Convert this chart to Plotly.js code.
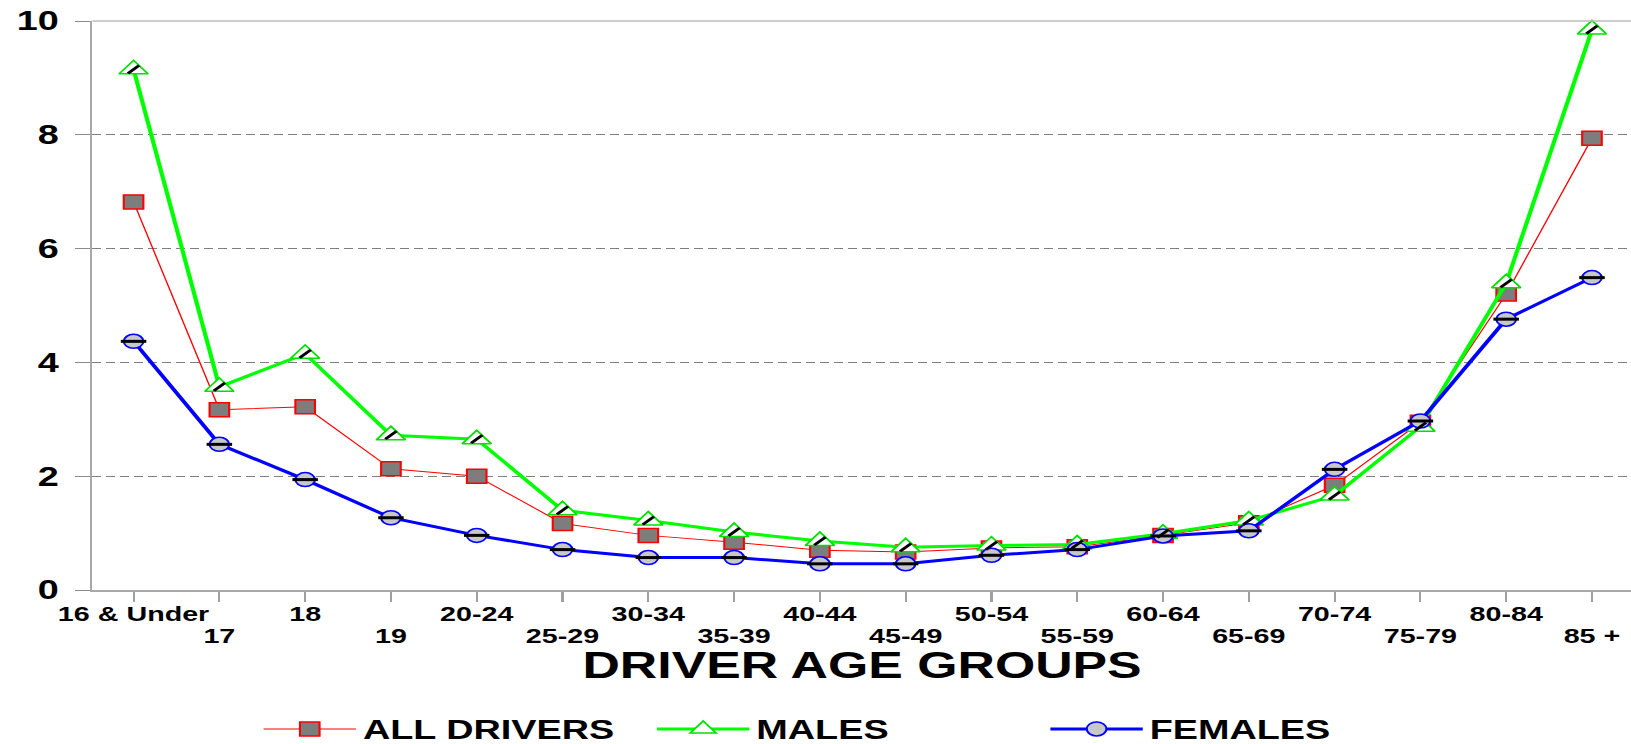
<!DOCTYPE html>
<html><head><meta charset="utf-8">
<script src="https://cdn.plot.ly/plotly-3.0.1.min.js"></script>
<style>
html,body{margin:0;padding:0;background:#fff;overflow:hidden;}
#wrap{width:1631px;height:744px;overflow:hidden;position:relative;background:#fff;}
#chart{width:1165px;height:744px;transform:scaleX(1.4);transform-origin:0 0;}
</style></head><body><div id="wrap"><div id="chart"></div></div>
<script>
const ageGroups = ['16 & Under','17','18','19','20-24','25-29','30-34','35-39','40-44','45-49','50-54','55-59','60-64','65-69','70-74','75-79','80-84','85 +'];
const allDrivers = [6.82,3.17,3.22,2.13,2.00,1.17,0.96,0.84,0.70,0.67,0.74,0.76,0.96,1.18,1.84,2.95,5.20,7.94];
const males      = [9.15,3.57,4.15,2.72,2.65,1.40,1.22,1.02,0.86,0.75,0.78,0.80,0.99,1.22,1.66,2.87,5.39,9.85];
const females    = [4.37,2.56,1.94,1.27,0.96,0.71,0.57,0.57,0.46,0.46,0.61,0.71,0.95,1.04,2.12,2.97,4.76,5.49];
const seriesNames = ['ALL DRIVERS','MALES','FEMALES'];
const xTitle = 'DRIVER AGE GROUPS';
const yTickVals = [0,2,4,6,8,10];

const F = 'Liberation Sans, Arial, Helvetica, sans-serif';
const XR = [-0.48, 17.455];
// upper row: even-indexed groups; lower row: odd-indexed groups
const upperText = ageGroups.map((g,i)=> i%2 ? '' : g);
const lowerVals = ageGroups.filter((g,i)=>i%2===1);

const traces = [
  {x:ageGroups, y:allDrivers, name:seriesNames[0], type:'scatter', mode:'lines+markers',
   line:{color:'#ff0000', width:1},
   marker:{symbol:'square', size:14, color:'#7d7d7d', line:{color:'#ff0000', width:1.5}},
   cliponaxis:false, hoverinfo:'x+y'},
  {x:ageGroups, y:males, name:seriesNames[1], type:'scatter', mode:'lines+markers',
   line:{color:'#00ff00', width:3},
   marker:{symbol:'triangle-up', size:18, color:'#ffffff', line:{color:'#00e000', width:1.5}},
   cliponaxis:false, hoverinfo:'x+y'},
  {x:ageGroups, y:females, name:seriesNames[2], type:'scatter', mode:'lines+markers',
   line:{color:'#0000ff', width:3},
   marker:{symbol:'circle', size:14, color:'#c8c8c8', line:{color:'#0000ff', width:1.5}},
   cliponaxis:false, hoverinfo:'x+y'},
  {x:ageGroups, y:males, xaxis:'x2', type:'scatter', mode:'markers', showlegend:false, hoverinfo:'skip',
   marker:{symbol:'line-ne', size:8, line:{color:'#000000', width:2.5}}, cliponaxis:false},
  {x:ageGroups, y:females, xaxis:'x2', type:'scatter', mode:'markers', showlegend:false, hoverinfo:'skip',
   marker:{symbol:'line-ew', size:13, line:{color:'#000000', width:3}}, cliponaxis:false}
];

const layout = {
  width:1165, height:744,
  margin:{l:65.7, r:0, t:21, b:154, pad:0, autoexpand:false},
  paper_bgcolor:'#ffffff', plot_bgcolor:'#ffffff',
  font:{family:F, weight:700, color:'#000'},
  showlegend:true,
  xaxis:{type:'category', range:XR, tickmode:'array', tickvals:ageGroups, ticktext:upperText,
    tickangle:0, showgrid:false, zeroline:false, showline:true, linecolor:'#a8a8a8', linewidth:2,
    ticks:'outside', ticklen:10, tickwidth:1.5, tickcolor:'#a0a0a0', ticklabelstandoff:-6,
    tickfont:{size:20.5, family:F, weight:700, color:'#000'}, fixedrange:true, automargin:false},
  xaxis2:{type:'category', overlaying:'x', anchor:'y', side:'bottom', range:XR, tickmode:'array',
    tickvals:lowerVals, ticktext:lowerVals, tickangle:0, showgrid:false, zeroline:false, showline:false,
    ticks:'outside', ticklen:10, tickcolor:'rgba(0,0,0,0)', ticklabelstandoff:17,
    tickfont:{size:20.5, family:F, weight:700, color:'#000'}, fixedrange:true, automargin:false},
  yaxis:{range:[0,10], tickmode:'array', tickvals:yTickVals, showgrid:true, gridcolor:'#7f7f7f',
    griddash:'6px,4px', gridwidth:1, zeroline:false, showline:true, linecolor:'#a8a8a8', linewidth:2,
    ticks:'outside', ticklen:10.7, tickcolor:'#8a8a8a', tickwidth:1,
    tickfont:{size:27, family:F, weight:700, color:'#000'}, ticklabelstandoff:6, fixedrange:true, automargin:false},
  legend:{orientation:'h', x:0.1067, xanchor:'left', y:-0.245, yanchor:'middle',
    font:{size:27, family:F, weight:700, color:'#000'}, itemwidth:66, entrywidth:200,
    bgcolor:'rgba(0,0,0,0)', borderwidth:0},
  annotations:[{text:xTitle, xref:'paper', yref:'paper', x:0.5, y:-0.133, xanchor:'center', yanchor:'middle',
    showarrow:false, font:{size:37, family:F, weight:700, color:'#000'}}],
  shapes:[{type:'line', xref:'paper', yref:'paper', x0:0, x1:1, y0:1, y1:1, line:{color:'#bdbdbd', width:1.5}}]
};

Plotly.newPlot('chart', traces, layout, {displayModeBar:false, staticPlot:true});
</script></body></html>
